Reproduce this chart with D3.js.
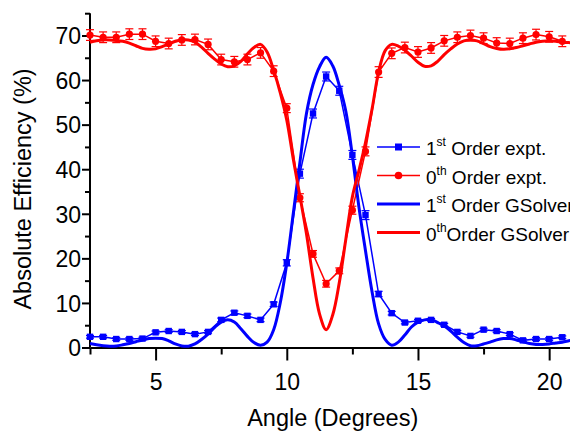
<!DOCTYPE html>
<html><head><meta charset="utf-8">
<script src="https://cdn.jsdelivr.net/npm/d3@7"></script>
<style>
html,body{margin:0;padding:0;background:#fff;}
svg text{font-family:"Liberation Sans",Arial,sans-serif;fill:#000;}
</style></head>
<body><svg id="c" width="570" height="431"></svg>
<script>
// ---- data ----
const exptAngles = [2.5,3,3.5,4,4.5,5,5.5,6,6.5,7,7.5,8,8.5,9,9.5,10,10.5,11,11.5,12,12.5,13,13.5,14,14.5,15,15.5,16,16.5,17,17.5,18,18.5,19,19.5,20,20.5];
const firstOrderExpt = [2.4,2.4,1.9,1.9,2.0,3.4,3.7,3.5,3.0,3.5,6.2,7.8,7.1,6.2,9.7,19.0,39.0,52.5,60.8,57.6,43.2,29.7,12.0,7.7,5.6,6.0,6.2,5.1,3.5,2.6,4.0,3.7,3.0,1.6,1.9,1.9,2.3];
const firstOrderErr = [0.3,0.3,0.3,0.3,0.3,0.3,0.3,0.3,0.3,0.3,0.4,0.4,0.4,0.4,0.5,0.7,1.0,1.0,1.0,1.0,1.0,1.0,0.6,0.4,0.3,0.3,0.3,0.3,0.3,0.3,0.3,0.3,0.3,0.3,0.3,0.3,0.3];
const zeroOrderExpt = [70.1,69.6,69.6,70.3,70.3,68.7,68.2,69.0,69.1,68.0,64.6,64.1,64.6,66.1,62.0,53.7,33.6,21.0,14.3,17.2,30.8,44.0,61.8,66.0,67.3,66.3,67.2,68.8,69.6,70.0,69.4,68.3,68.2,69.4,70.2,69.7,68.7];
const zeroOrderErr = [1.2,1.2,1.2,1.2,1.2,1.2,1.2,1.2,1.2,1.2,1.2,1.2,1.2,1.2,1.2,1.0,0.9,0.75,0.75,0.65,0.9,1.0,1.2,1.2,1.2,1.2,1.2,1.2,1.2,1.2,1.2,1.2,1.2,1.2,1.2,1.2,1.2];

const simAngles = [2.5,2.75,3,3.25,3.5,3.75,4,4.25,4.5,4.75,5,5.25,5.5,5.75,6,6.25,6.5,6.75,7,7.25,7.5,7.75,8,8.25,8.5,8.75,9,9.25,9.5,9.75,10,10.25,10.5,10.75,11,11.25,11.5,11.75,12,12.25,12.5,12.75,13,13.25,13.5,13.75,14,14.25,14.5,14.75,15,15.25,15.5,15.75,16,16.25,16.5,16.75,17,17.25,17.5,17.75,18,18.25,18.5,18.75,19,19.25,19.5,19.75,20,20.25,20.5,20.75,21];
const firstOrderSim = [0.9,0.6,0.4,0.3,0.35,0.6,0.9,1.3,1.7,2.0,2.1,2.0,1.5,0.8,0.35,0.3,0.8,1.8,3.0,4.5,5.7,6.2,5.7,4.2,2.5,1.1,0.5,1.2,4.0,10.0,18.9,30.2,41.5,52.5,59.0,63.0,65.1,63.2,58.8,53.0,43.0,31.5,21.7,12.5,5.3,1.8,0.5,1.2,2.8,4.6,5.7,6.2,6.3,5.6,4.8,3.7,2.3,1.1,0.4,0.4,0.8,1.2,1.7,2.0,2.0,1.7,1.3,0.9,0.7,0.7,0.8,1.0,1.2,1.5,1.8];
const zeroOrderSim = [68.5,68.8,69.0,69.0,68.9,68.7,68.3,67.7,67.1,66.9,67.0,67.5,68.1,68.7,69.0,69.0,68.5,67.4,66.0,64.7,63.6,63.0,63.2,64.2,65.9,67.3,68.0,66.3,62.2,57.2,51.0,42.2,34.0,25.5,15.6,7.5,4.0,7.3,14.5,24.3,33.8,39.7,46.0,53.5,61.8,66.6,68.0,67.6,66.7,65.4,64.0,63.1,63.2,64.2,65.7,67.0,68.1,68.8,69.0,68.8,68.2,67.5,67.1,66.9,67.0,67.3,67.7,68.1,68.5,68.7,68.8,68.7,68.5,68.4,68.3];

const xMajor = [5,10,15,20];
const xMinor = [2.5,7.5,12.5,17.5];
const yMajor = [0,10,20,30,40,50,60,70];
const yMinor = [5,15,25,35,45,55,65,75];

// ---- chart ----
const svg = d3.select("#c");
const BLUE = "#0000ff", RED = "#ff0000";
const x = d3.scaleLinear().domain([2.5,21]).range([90,575.4]);
const y = d3.scaleLinear().domain([0,75]).range([347.5,13.2]);

function styleAxis(g){
  g.selectAll("path.domain").attr("stroke","#000").attr("stroke-width",2);
  g.selectAll(".tick line").attr("stroke","#000").attr("stroke-width",2);
}
// x axis
const gx = svg.append("g").attr("transform","translate(0,347.5)");
gx.call(d3.axisBottom(x).tickValues(xMajor).tickSize(13).tickSizeOuter(0).tickFormat(d3.format("d")));
gx.selectAll(".tick text").attr("y",42.5).attr("dy",0).attr("font-size",23).attr("font-family",null);
styleAxis(gx);
const gxm = svg.append("g").attr("transform","translate(0,347.5)");
gxm.call(d3.axisBottom(x).tickValues(xMinor).tickSize(7).tickSizeOuter(0).tickFormat(""));
gxm.select("path.domain").remove();
styleAxis(gxm);
// y axis
const gy = svg.append("g").attr("transform","translate(90,0)");
gy.call(d3.axisLeft(y).tickValues(yMajor).tickSize(8).tickSizeOuter(0).tickPadding(1).tickFormat(d3.format("d")));
gy.selectAll(".tick text").attr("dy","0.36em").attr("font-size",23).attr("font-family",null);
styleAxis(gy);
const gym = svg.append("g").attr("transform","translate(90,0)");
gym.call(d3.axisLeft(y).tickValues(yMinor).tickSize(5).tickSizeOuter(0).tickFormat(""));
gym.select("path.domain").remove();
styleAxis(gym);
// fix domain line to span full range
gy.select("path.domain").attr("d",`M0,${y(0)}V${y(75)}`);

// titles
svg.append("text").attr("transform","translate(31,189) rotate(-90)").attr("text-anchor","middle")
  .attr("font-size",23.5).text("Absolute Efficiency (%)");
svg.append("text").attr("x",332.7).attr("y",426).attr("text-anchor","middle")
  .attr("font-size",23.5).text("Angle (Degrees)");

// series
const plot = svg.append("g");
function simLine(vals,color){
  const pts = simAngles.map((a,i)=>[a,vals[i]]);
  plot.append("path").datum(pts)
    .attr("d",d3.line().x(d=>x(d[0])).y(d=>y(d[1])).curve(d3.curveCatmullRom.alpha(0.5)))
    .attr("fill","none").attr("stroke",color).attr("stroke-width",3).attr("stroke-linejoin","round");
}
function expt(vals,errs,color,shape){
  const pts = exptAngles.map((a,i)=>({a,v:vals[i],e:errs[i]}));
  plot.append("path").datum(pts)
    .attr("d",d3.line().x(d=>x(d.a)).y(d=>y(d.v)))
    .attr("fill","none").attr("stroke",color).attr("stroke-width",1.5);
  const eb = plot.append("g").attr("stroke",color).attr("stroke-width",1.2);
  pts.forEach(d=>{
    const cx = x(d.a), y1 = y(d.v+d.e), y2 = y(d.v-d.e);
    eb.append("line").attr("x1",cx).attr("x2",cx).attr("y1",y1).attr("y2",y2);
    eb.append("line").attr("x1",cx-4).attr("x2",cx+4).attr("y1",y1).attr("y2",y1);
    eb.append("line").attr("x1",cx-4).attr("x2",cx+4).attr("y1",y2).attr("y2",y2);
  });
  const mk = plot.append("g").attr("fill",color);
  pts.forEach(d=>{
    if(shape==="square") mk.append("rect").attr("x",x(d.a)-3.2).attr("y",y(d.v)-3.2).attr("width",6.4).attr("height",6.4);
    else mk.append("circle").attr("cx",x(d.a)).attr("cy",y(d.v)).attr("r",3.6);
  });
}
expt(firstOrderExpt,firstOrderErr,BLUE,"square");
expt(zeroOrderExpt,zeroOrderErr,RED,"circle");
simLine(firstOrderSim,BLUE);
simLine(zeroOrderSim,RED);

// legend
const legend = [
  {n:"1",sup:"st",rest:" Order expt.",color:BLUE,marker:"square",w:1.5},
  {n:"0",sup:"th",rest:" Order expt.",color:RED,marker:"circle",w:1.5},
  {n:"1",sup:"st",rest:" Order GSolver",color:BLUE,marker:null,w:3},
  {n:"0",sup:"th",rest:"Order GSolver",color:RED,marker:null,w:3}
];
const lg = svg.append("g");
legend.forEach((d,i)=>{
  const ly = 147 + i*28.5;
  lg.append("line").attr("x1",377).attr("x2",420).attr("y1",ly).attr("y2",ly).attr("stroke",d.color).attr("stroke-width",d.w);
  if(d.marker==="square") lg.append("rect").attr("x",398.5-3.5).attr("y",ly-3.5).attr("width",7).attr("height",7).attr("fill",d.color);
  if(d.marker==="circle") lg.append("circle").attr("cx",398.5).attr("cy",ly).attr("r",3.8).attr("fill",d.color);
  const t = lg.append("text").attr("x",426).attr("y",ly+8).attr("font-size",19);
  t.append("tspan").text(d.n);
  t.append("tspan").attr("dy",-9).attr("font-size",12).text(d.sup);
  t.append("tspan").attr("dy",9).text(d.rest);
});
</script></body></html>
